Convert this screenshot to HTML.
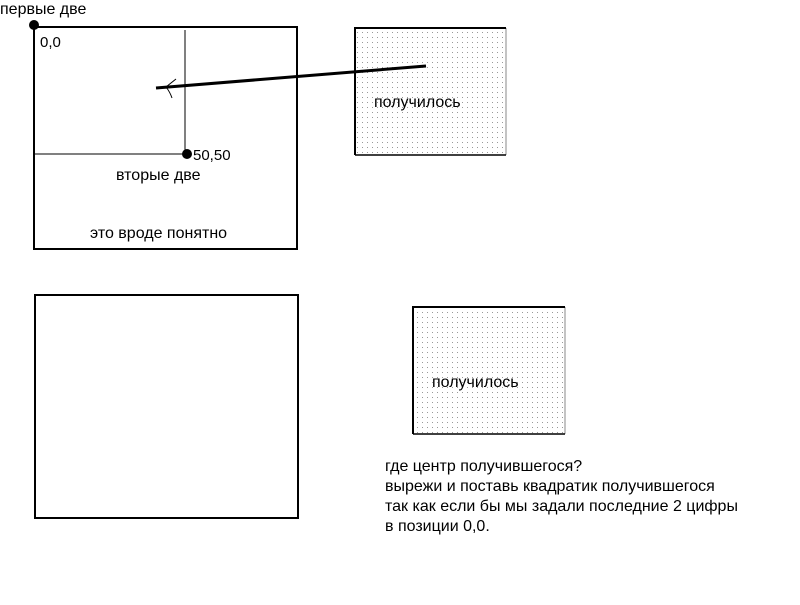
<!DOCTYPE html>
<html><head><meta charset="utf-8"><style>html,body{margin:0;padding:0;background:#fff;}</style></head><body>
<svg width="800" height="600" xmlns="http://www.w3.org/2000/svg" font-family="Liberation Sans, sans-serif" font-size="16" fill="#000">
<defs><pattern id="d" width="5" height="5" patternUnits="userSpaceOnUse"><rect x="2" y="2" width="1" height="1" fill="#999"/></pattern></defs>
<rect x="34" y="27" width="263" height="222" fill="none" stroke="#000" stroke-width="2"/>
<rect x="35" y="295" width="263" height="223" fill="none" stroke="#000" stroke-width="2"/>
<rect x="355" y="27" width="151" height="128" fill="url(#d)"/>
<line x1="506" y1="28" x2="506" y2="155" stroke="#888" stroke-width="1"/>
<path d="M355 155V28H506" fill="none" stroke="#000" stroke-width="2"/>
<rect x="412" y="306" width="153" height="128" fill="url(#d)"/>
<line x1="565" y1="307" x2="565" y2="434" stroke="#888" stroke-width="1"/>
<path d="M413 434V307H565" fill="none" stroke="#000" stroke-width="2"/>
<line x1="413" y1="434" x2="565" y2="434" stroke="#000" stroke-width="1.5"/>
<line x1="355" y1="155" x2="506" y2="155" stroke="#000" stroke-width="1.5"/>
<line x1="185" y1="30" x2="185" y2="154" stroke="#000"/>
<line x1="35" y1="154" x2="185" y2="154" stroke="#000"/>
<line x1="156" y1="88" x2="426" y2="66" stroke="#000" stroke-width="3"/>
<path d="M176 79L166 87Q170 92 172 98" fill="none" stroke="#000"/>
<circle cx="34" cy="25" r="5"/>
<circle cx="187" cy="154" r="5"/>
<text x="0" y="14">первые две</text>
<text x="40" y="47" font-size="15">0,0</text>
<text x="193" y="160" font-size="15">50,50</text>
<text x="116" y="180">вторые две</text>
<text x="90" y="238">это вроде понятно</text>
<text x="374" y="107">получилось</text>
<text x="432" y="387">получилось</text>
<text x="385" y="471">где центр получившегося?</text>
<text x="385" y="491">вырежи и поставь квадратик получившегося</text>
<text x="385" y="511">так как если бы мы задали последние 2 цифры</text>
<text x="385" y="531">в позиции 0,0.</text>
</svg>
</body></html>
